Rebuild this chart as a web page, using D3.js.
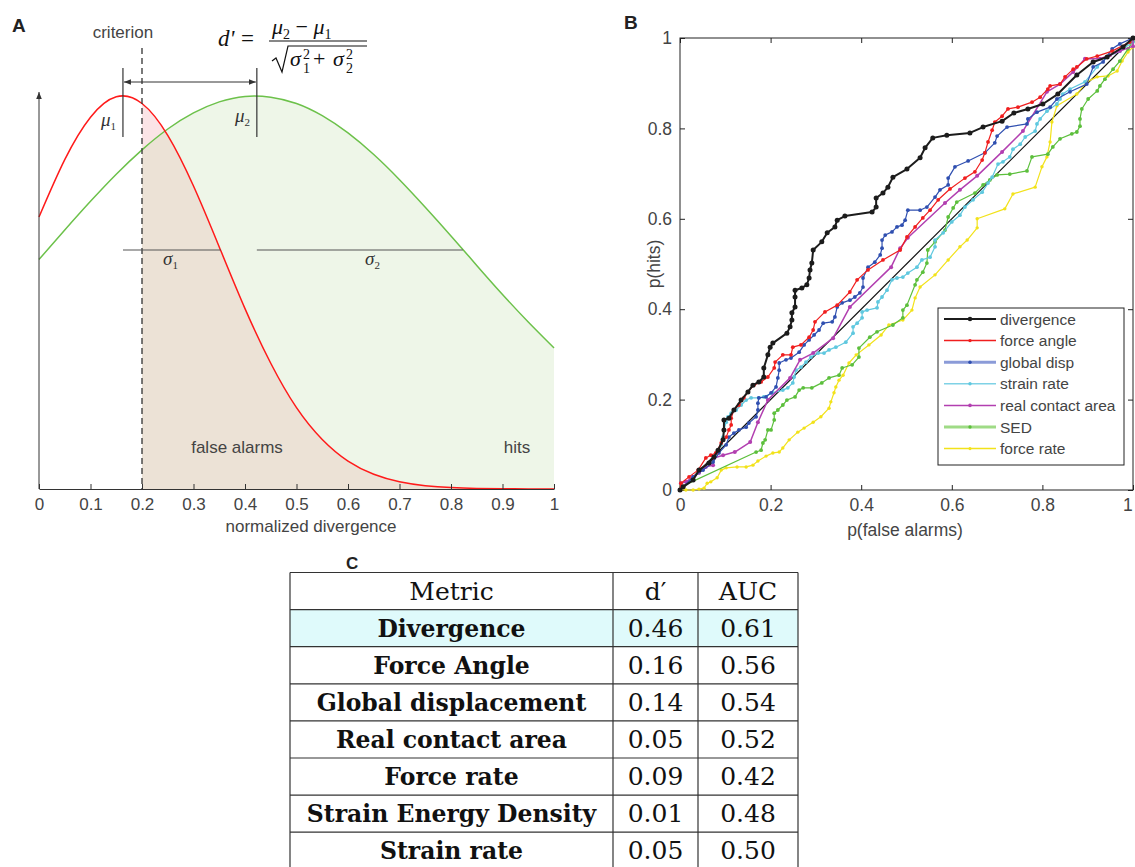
<!DOCTYPE html>
<html><head><meta charset="utf-8">
<script src="https://cdn.jsdelivr.net/npm/d3@7"></script>
<style>body{margin:0;background:#fff} svg{display:block}</style>
</head><body>
<svg id="fig" width="1135" height="867"></svg>
<script>
// ---- Panel A: signal / noise distributions (height relative to peak) ----
const gridA = [0,0.05,0.1,0.15,0.2,0.25,0.3,0.35,0.4,0.45,0.5,0.55,0.6,0.65,0.7,0.75,0.8,0.85,0.9,0.95,1];
const noiseA = [0.692,0.838,0.946,0.998,0.981,0.900,0.771,0.616,0.459,0.320,0.207,0.126,0.071,0.0375,0.0184,0.0085,0.0036,0.0014,0.0005,0.0002,0.0001];
const signalA = [0.584,0.659,0.732,0.801,0.863,0.916,0.957,0.985,0.999,0.997,0.981,0.950,0.906,0.851,0.787,0.717,0.644,0.569,0.495,0.425,0.359];
const mu1 = 0.163, mu2 = 0.423, sigma1 = 0.19, sigma2 = 0.40, criterion = 0.2;
const ticksA = [0,0.1,0.2,0.3,0.4,0.5,0.6,0.7,0.8,0.9,1];

// ---- Panel B: ROC curves [p(false alarms), p(hits)] ----
const divergence = [[0,0],[0.007,0.007],[0.029,0.022],[0.042,0.044],[0.064,0.060],[0.075,0.073],[0.084,0.088],[0.095,0.111],[0.097,0.133],[0.097,0.155],[0.108,0.159],[0.119,0.177],[0.135,0.199],[0.150,0.217],[0.161,0.232],[0.174,0.239],[0.185,0.250],[0.185,0.270],[0.194,0.299],[0.199,0.316],[0.205,0.325],[0.236,0.347],[0.243,0.361],[0.247,0.376],[0.247,0.392],[0.254,0.405],[0.254,0.427],[0.254,0.442],[0.269,0.447],[0.280,0.454],[0.285,0.469],[0.287,0.487],[0.291,0.502],[0.294,0.531],[0.313,0.549],[0.325,0.569],[0.342,0.582],[0.347,0.597],[0.364,0.606],[0.424,0.615],[0.433,0.626],[0.433,0.646],[0.448,0.657],[0.459,0.670],[0.470,0.692],[0.501,0.710],[0.530,0.735],[0.541,0.757],[0.558,0.779],[0.589,0.785],[0.640,0.790],[0.669,0.803],[0.711,0.816],[0.737,0.834],[0.768,0.843],[0.801,0.854],[0.834,0.876],[0.876,0.918],[0.912,0.947],[0.943,0.958],[0.978,0.980],[1,1]];
const forceAngle = [[0,0],[0.002,0.015],[0.020,0.029],[0.040,0.044],[0.057,0.071],[0.068,0.077],[0.079,0.082],[0.091,0.104],[0.102,0.117],[0.108,0.133],[0.113,0.144],[0.113,0.159],[0.119,0.177],[0.130,0.188],[0.141,0.204],[0.150,0.217],[0.163,0.232],[0.179,0.239],[0.194,0.250],[0.208,0.270],[0.210,0.283],[0.227,0.299],[0.245,0.299],[0.249,0.316],[0.267,0.321],[0.285,0.338],[0.294,0.354],[0.298,0.372],[0.320,0.394],[0.347,0.409],[0.375,0.438],[0.391,0.465],[0.415,0.487],[0.448,0.509],[0.486,0.531],[0.501,0.560],[0.519,0.582],[0.536,0.602],[0.552,0.619],[0.570,0.642],[0.596,0.666],[0.629,0.690],[0.651,0.704],[0.667,0.730],[0.673,0.746],[0.680,0.770],[0.689,0.796],[0.695,0.814],[0.711,0.827],[0.724,0.843],[0.746,0.847],[0.777,0.858],[0.795,0.869],[0.812,0.887],[0.817,0.894],[0.839,0.898],[0.850,0.914],[0.868,0.931],[0.876,0.936],[0.898,0.954],[0.921,0.960],[0.954,0.971],[0.993,0.991],[1,1]];
const globalDisp = [[0,0],[0.007,0.007],[0.029,0.029],[0.051,0.044],[0.073,0.062],[0.086,0.082],[0.102,0.100],[0.108,0.117],[0.119,0.126],[0.130,0.133],[0.146,0.139],[0.152,0.148],[0.168,0.162],[0.172,0.177],[0.172,0.192],[0.174,0.204],[0.190,0.206],[0.201,0.215],[0.212,0.228],[0.216,0.248],[0.219,0.265],[0.219,0.281],[0.234,0.288],[0.245,0.292],[0.263,0.305],[0.274,0.321],[0.285,0.332],[0.296,0.343],[0.307,0.354],[0.316,0.369],[0.336,0.372],[0.342,0.383],[0.347,0.405],[0.358,0.414],[0.375,0.420],[0.386,0.427],[0.397,0.436],[0.404,0.449],[0.404,0.469],[0.415,0.493],[0.430,0.504],[0.442,0.520],[0.446,0.535],[0.446,0.553],[0.453,0.564],[0.468,0.571],[0.479,0.582],[0.490,0.586],[0.497,0.597],[0.503,0.619],[0.530,0.619],[0.545,0.626],[0.563,0.648],[0.574,0.664],[0.592,0.675],[0.592,0.690],[0.607,0.715],[0.636,0.728],[0.673,0.746],[0.695,0.768],[0.700,0.783],[0.722,0.803],[0.766,0.810],[0.768,0.821],[0.788,0.836],[0.817,0.847],[0.832,0.865],[0.861,0.881],[0.898,0.898],[0.912,0.936],[0.934,0.947],[0.954,0.976],[0.971,0.987],[1,1]];
const strainRate = [[0,0],[0.007,0.007],[0.024,0.022],[0.042,0.038],[0.064,0.060],[0.079,0.077],[0.091,0.100],[0.095,0.117],[0.097,0.133],[0.102,0.150],[0.106,0.162],[0.113,0.170],[0.124,0.177],[0.135,0.188],[0.146,0.199],[0.157,0.204],[0.174,0.204],[0.185,0.206],[0.205,0.215],[0.227,0.221],[0.238,0.226],[0.249,0.237],[0.252,0.250],[0.256,0.265],[0.267,0.272],[0.278,0.283],[0.289,0.294],[0.305,0.303],[0.318,0.303],[0.329,0.310],[0.344,0.316],[0.366,0.327],[0.382,0.347],[0.382,0.361],[0.391,0.369],[0.402,0.381],[0.402,0.394],[0.413,0.398],[0.435,0.403],[0.437,0.416],[0.446,0.427],[0.457,0.442],[0.468,0.465],[0.479,0.469],[0.492,0.471],[0.503,0.480],[0.523,0.493],[0.534,0.509],[0.552,0.515],[0.563,0.538],[0.563,0.553],[0.581,0.569],[0.600,0.593],[0.618,0.608],[0.629,0.626],[0.647,0.642],[0.667,0.659],[0.680,0.679],[0.689,0.692],[0.702,0.721],[0.713,0.726],[0.728,0.737],[0.735,0.754],[0.751,0.765],[0.762,0.781],[0.784,0.794],[0.788,0.810],[0.795,0.821],[0.810,0.838],[0.832,0.854],[0.839,0.865],[0.845,0.876],[0.861,0.887],[0.894,0.903],[0.921,0.936],[0.943,0.958],[0.971,0.971],[1,0.991],[1,1]];
const contactArea = [[0,0],[0.002,0.015],[0.013,0.018],[0.029,0.029],[0.042,0.038],[0.057,0.051],[0.073,0.055],[0.075,0.071],[0.095,0.077],[0.121,0.084],[0.155,0.106],[0.172,0.150],[0.194,0.199],[0.243,0.248],[0.265,0.288],[0.294,0.303],[0.338,0.336],[0.375,0.405],[0.466,0.493],[0.486,0.535],[0.503,0.558],[0.585,0.635],[0.618,0.664],[0.656,0.695],[0.711,0.748],[0.757,0.794],[0.810,0.881],[0.839,0.898],[0.868,0.925],[0.894,0.954],[0.927,0.954],[0.949,0.962],[0.971,0.971],[1,0.982],[1,1]];
const sed = [[0,0],[0.002,0.007],[0.168,0.084],[0.179,0.088],[0.183,0.104],[0.188,0.111],[0.194,0.133],[0.201,0.133],[0.208,0.155],[0.208,0.170],[0.216,0.177],[0.227,0.188],[0.236,0.199],[0.254,0.206],[0.263,0.221],[0.272,0.226],[0.291,0.226],[0.313,0.237],[0.329,0.248],[0.351,0.254],[0.358,0.270],[0.380,0.277],[0.395,0.294],[0.395,0.314],[0.419,0.338],[0.435,0.350],[0.470,0.365],[0.492,0.381],[0.492,0.398],[0.501,0.409],[0.519,0.454],[0.523,0.465],[0.536,0.482],[0.545,0.502],[0.547,0.531],[0.563,0.549],[0.585,0.575],[0.592,0.604],[0.603,0.624],[0.611,0.637],[0.651,0.657],[0.669,0.675],[0.684,0.686],[0.700,0.697],[0.728,0.699],[0.766,0.706],[0.777,0.737],[0.812,0.743],[0.823,0.759],[0.839,0.777],[0.865,0.788],[0.876,0.792],[0.883,0.805],[0.883,0.821],[0.887,0.843],[0.901,0.865],[0.921,0.883],[0.927,0.894],[0.938,0.909],[0.956,0.931],[0.971,0.949],[0.989,0.976],[1,0.993],[1,1]];
const forceRate = [[0,0],[0.013,0],[0.029,0],[0.042,0.002],[0.053,0.004],[0.060,0.015],[0.068,0.018],[0.082,0.027],[0.091,0.044],[0.102,0.049],[0.126,0.051],[0.146,0.051],[0.161,0.055],[0.172,0.064],[0.190,0.075],[0.205,0.082],[0.219,0.084],[0.227,0.093],[0.241,0.111],[0.260,0.128],[0.274,0.137],[0.294,0.150],[0.311,0.162],[0.329,0.181],[0.333,0.195],[0.340,0.215],[0.344,0.228],[0.351,0.243],[0.360,0.254],[0.373,0.281],[0.389,0.299],[0.417,0.321],[0.444,0.343],[0.461,0.365],[0.492,0.376],[0.512,0.398],[0.519,0.425],[0.530,0.449],[0.563,0.476],[0.592,0.509],[0.618,0.538],[0.634,0.553],[0.656,0.580],[0.656,0.600],[0.717,0.622],[0.735,0.655],[0.784,0.670],[0.799,0.715],[0.810,0.737],[0.817,0.770],[0.821,0.814],[0.832,0.850],[0.876,0.876],[0.898,0.903],[0.921,0.914],[0.945,0.916],[0.965,0.927],[0.976,0.949],[0.989,0.969],[1,0.980],[1,1]];
const chanceLine = [[0,0],[1,1]];
const ticksB = [0,0.2,0.4,0.6,0.8,1];

// draw order (bottom to top) and legend order
const rocSeries = [
  {name:'force rate',        data:forceRate,   color:'#f2e21a', w:1.2, r:1.7, legW:1.5, legColor:'#f2e21a'},
  {name:'SED',               data:sed,         color:'#5cbf3c', w:1.2, r:1.9, legW:3,   legColor:'#9fdb86'},
  {name:'strain rate',       data:strainRate,  color:'#5fc8df', w:1.2, r:1.9, legW:1.5, legColor:'#7fd2e6'},
  {name:'real contact area', data:contactArea, color:'#b23fb0', w:1.5, r:2.0, legW:1.5, legColor:'#b23fb0'},
  {name:'global disp',       data:globalDisp,  color:'#2f4fb0', w:1.2, r:1.9, legW:3,   legColor:'#8b9bd8'},
  {name:'force angle',       data:forceAngle,  color:'#f01e1e', w:1.2, r:1.9, legW:1.5, legColor:'#f01e1e'},
  {name:'divergence',        data:divergence,  color:'#1c1c1c', w:2.0, r:2.5, legW:2,   legColor:'#1c1c1c'}
];
const legendOrder = ['divergence','force angle','global disp','strain rate','real contact area','SED','force rate'];

// ---- Panel C table ----
const metrics = ['Divergence','Force Angle','Global displacement','Real contact area','Force rate','Strain Energy Density','Strain rate'];
const dPrime = ['0.46','0.16','0.14','0.05','0.09','0.01','0.05'];
const aucVals = ['0.61','0.56','0.54','0.52','0.42','0.48','0.50'];

const svg = d3.select('#fig');
const sans = '"Liberation Sans", Arial, sans-serif';
const serif = '"Liberation Serif", "DejaVu Serif", serif';
const tabFont = '"DejaVu Serif", serif';
const txt = '#444';

const defs = svg.append('defs');
defs.append('marker').attr('id','arr').attr('viewBox','0 0 10 10')
  .attr('refX',10).attr('refY',5).attr('markerWidth',7).attr('markerHeight',7)
  .attr('orient','auto-start-reverse')
  .append('path').attr('d','M0,1 L10,5 L0,9 z').attr('fill','#333');

/* ================= Panel A ================= */
const xA = d3.scaleLinear().domain([0,1]).range([39,554]);
const yA = d3.scaleLinear().domain([0,1]).range([489,96]);
const gA = svg.append('g');

const ptsRed = gridA.map((x,i) => [x, noiseA[i]]);
const ptsGreen = gridA.map((x,i) => [x, signalA[i]]);
const right = p => p.filter(d => d[0] >= criterion);

const area = d3.area().x(d => xA(d[0])).y0(yA(0)).y1(d => yA(d[1])).curve(d3.curveNatural);
const line = d3.line().x(d => xA(d[0])).y(d => yA(d[1])).curve(d3.curveNatural);

defs.append('clipPath').attr('id','clipGreen')
  .append('path').attr('d', area(right(ptsGreen)));

gA.append('path').attr('d', area(right(ptsGreen))).attr('fill','#eef6e8');
gA.append('path').attr('d', area(right(ptsRed))).attr('fill','#fbe4e6');
gA.append('path').attr('d', area(right(ptsRed))).attr('fill','#ece2d6').attr('clip-path','url(#clipGreen)');

gA.append('path').attr('d', line(ptsGreen)).attr('fill','none').attr('stroke','#6cc14a').attr('stroke-width',1.5);
gA.append('path').attr('d', line(ptsRed)).attr('fill','none').attr('stroke','#ff1a1a').attr('stroke-width',1.5);

// x axis
const axA = gA.append('g').attr('transform',`translate(0,${yA(0)})`)
  .call(d3.axisBottom(xA).tickValues(ticksA).tickSizeInner(-5).tickSizeOuter(0).tickPadding(9)
    .tickFormat(d => d3.format('~g')(d)));
axA.select('.domain').attr('stroke','#333');
axA.selectAll('.tick line').attr('stroke','#333');
axA.selectAll('text').attr('font-family',sans).attr('font-size','17px').attr('fill',txt);

// y axis arrow
gA.append('line').attr('x1',xA(0)).attr('x2',xA(0)).attr('y1',yA(0)).attr('y2',92)
  .attr('stroke','#333').attr('stroke-width',1).attr('marker-end','url(#arr)');

// criterion
gA.append('line').attr('x1',xA(criterion)).attr('x2',xA(criterion)).attr('y1',48).attr('y2',yA(0))
  .attr('stroke','#333').attr('stroke-width',1.3).attr('stroke-dasharray','6,4');
gA.append('text').attr('x',xA(mu1)).attr('y',38).attr('text-anchor','middle')
  .attr('font-family',sans).attr('font-size','17px').attr('fill',txt).text('criterion');

// mean markers + d' arrow
[mu1, mu2].forEach(m => {
  gA.append('line').attr('x1',xA(m)).attr('x2',xA(m)).attr('y1',68).attr('y2',137)
    .attr('stroke','#333').attr('stroke-width',1.2);
});
gA.append('line').attr('x1',xA(mu1)+1).attr('x2',xA(mu2)-1).attr('y1',82).attr('y2',82)
  .attr('stroke','#333').attr('stroke-width',1).attr('marker-start','url(#arr)').attr('marker-end','url(#arr)');

// sigma lines
[[mu1,sigma1],[mu2,sigma2]].forEach(([m,s]) => {
  gA.append('line').attr('x1',xA(m)).attr('x2',xA(m+s)).attr('y1',250).attr('y2',250)
    .attr('stroke','#555').attr('stroke-width',1.2);
});

function greek(g, x, y, sym, sub) {
  const t = g.append('text').attr('x',x).attr('y',y).attr('font-family',serif)
    .attr('font-style','italic').attr('font-size','19px').attr('fill','#333');
  t.append('tspan').text(sym);
  t.append('tspan').attr('font-size','11px').attr('font-style','normal').attr('dy',4).text(sub);
}
greek(gA, 101, 126, 'μ', '1');
greek(gA, 235, 122, 'μ', '2');
greek(gA, 163, 265, 'σ', '1');
greek(gA, 365, 265, 'σ', '2');

// formula
const fs = gA.append('g').attr('font-family',serif).attr('fill','#111');
fs.append('text').attr('x',218).attr('y',46).attr('font-size','23px').attr('font-style','italic').text("d'");
fs.append('text').attr('x',241).attr('y',46).attr('font-size','23px').text('=');
const num = fs.append('text').attr('x',272).attr('y',34).attr('font-size','22px');
num.append('tspan').attr('font-style','italic').text('μ');
num.append('tspan').attr('font-size','14px').attr('dy',5).text('2');
num.append('tspan').attr('dy',-5).text(' − ');
num.append('tspan').attr('font-style','italic').text('μ');
num.append('tspan').attr('font-size','14px').attr('dy',5).text('1');
fs.append('line').attr('x1',269).attr('x2',367).attr('y1',41).attr('y2',41).attr('stroke','#111').attr('stroke-width',1.1);
fs.append('path').attr('d','M272,61 L276,58 L282,72 L288,46 L367,46').attr('fill','none').attr('stroke','#111').attr('stroke-width',1.2);
function sq(x, sub) {
  fs.append('text').attr('x',x).attr('y',66).attr('font-size','22px').attr('font-style','italic').text('σ');
  fs.append('text').attr('x',x+13).attr('y',59).attr('font-size','14px').text('2');
  fs.append('text').attr('x',x+13).attr('y',73).attr('font-size','14px').text(sub);
}
sq(290, '1');
fs.append('text').attr('x',313).attr('y',66).attr('font-size','22px').text('+');
sq(333, '2');

gA.append('text').attr('x',237).attr('y',453).attr('text-anchor','middle').attr('font-family',sans)
  .attr('font-size','17px').attr('fill',txt).text('false alarms');
gA.append('text').attr('x',517).attr('y',453).attr('text-anchor','middle').attr('font-family',sans)
  .attr('font-size','17px').attr('fill',txt).text('hits');
gA.append('text').attr('x',311).attr('y',532).attr('text-anchor','middle').attr('font-family',sans)
  .attr('font-size','17px').attr('fill',txt).text('normalized divergence');
svg.append('text').attr('x',12).attr('y',32).attr('font-family',sans).attr('font-weight','700')
  .attr('font-size','19px').attr('fill','#222').text('A');

/* ================= Panel B ================= */
const xB = d3.scaleLinear().domain([0,1]).range([680,1133]);
const yB = d3.scaleLinear().domain([0,1]).range([490,38]);
const gB = svg.append('g');

const styleAxis = (ax, labels) => {
  ax.select('.domain').remove();
  ax.selectAll('.tick line').attr('stroke','#222');
  if (labels) ax.selectAll('text').attr('font-family',sans).attr('font-size','17.5px').attr('fill',txt);
  else ax.selectAll('text').remove();
};
gB.append('g').attr('transform',`translate(0,${yB(0)})`)
  .call(d3.axisBottom(xB).tickValues(ticksB).tickSizeInner(-5).tickSizeOuter(0).tickPadding(9).tickFormat(d3.format('~g')))
  .call(ax => styleAxis(ax, true))
  .call(ax => ax.selectAll('.tick').filter(d => d === 1).select('text').attr('text-anchor','end').attr('dx','-0.05em'));
gB.append('g').attr('transform',`translate(0,${yB(1)})`)
  .call(d3.axisTop(xB).tickValues(ticksB).tickSizeInner(-5).tickSizeOuter(0))
  .call(ax => styleAxis(ax, false));
gB.append('g').attr('transform',`translate(${xB(0)},0)`)
  .call(d3.axisLeft(yB).tickValues(ticksB).tickSizeInner(-5).tickSizeOuter(0).tickPadding(8).tickFormat(d3.format('~g')))
  .call(ax => styleAxis(ax, true));
gB.append('g').attr('transform',`translate(${xB(1)},0)`)
  .call(d3.axisRight(yB).tickValues(ticksB).tickSizeInner(-5).tickSizeOuter(0))
  .call(ax => styleAxis(ax, false));
gB.append('rect').attr('x',xB(0)).attr('y',yB(1)).attr('width',xB(1)-xB(0)).attr('height',yB(0)-yB(1))
  .attr('fill','none').attr('stroke','#222').attr('stroke-width',1);

const lineB = d3.line().x(d => xB(d[0])).y(d => yB(d[1]));
gB.append('path').attr('d', lineB(chanceLine)).attr('stroke','#111').attr('stroke-width',1.2).attr('fill','none');

rocSeries.forEach(s => {
  const g = gB.append('g');
  g.append('path').attr('d', lineB(s.data)).attr('fill','none').attr('stroke',s.color)
    .attr('stroke-width',s.w).attr('stroke-linejoin','round');
  g.selectAll('circle').data(s.data).join('circle')
    .attr('cx', d => xB(d[0])).attr('cy', d => yB(d[1])).attr('r', s.r).attr('fill', s.color);
});

gB.append('text').attr('transform',`translate(660,264) rotate(-90)`).attr('text-anchor','middle')
  .attr('font-family',sans).attr('font-size','17.5px').attr('fill',txt).text('p(hits)');
gB.append('text').attr('x',905).attr('y',536).attr('text-anchor','middle')
  .attr('font-family',sans).attr('font-size','17.5px').attr('fill',txt).text('p(false alarms)');
svg.append('text').attr('x',624).attr('y',29).attr('font-family',sans).attr('font-weight','700')
  .attr('font-size','19px').attr('fill','#222').text('B');

// legend
const leg = gB.append('g').attr('transform','translate(938,308)');
leg.append('rect').attr('width',186).attr('height',157).attr('fill','#fff').attr('stroke','#222').attr('stroke-width',1);
legendOrder.forEach((n, i) => {
  const s = rocSeries.find(d => d.name === n);
  const y = 11 + i * 21.6;
  leg.append('line').attr('x1',6).attr('x2',58).attr('y1',y).attr('y2',y)
    .attr('stroke',s.legColor).attr('stroke-width',s.legW);
  leg.append('circle').attr('cx',32).attr('cy',y).attr('r',s.r * 0.9).attr('fill',s.color);
  leg.append('text').attr('x',62).attr('y',y+5.5).attr('font-family',sans).attr('font-size','15.5px')
    .attr('fill',txt).text(n);
});

/* ================= Panel C ================= */
const gC = svg.append('g');
const colX = [290, 613, 698, 798];
const rowH = 37.1, top0 = 572.5;
const rowY = i => top0 + i * rowH;

gC.append('rect').attr('x',colX[0]).attr('y',rowY(1)).attr('width',colX[3]-colX[0]).attr('height',rowH)
  .attr('fill','#dffafb');
const header = ['Metric', 'd\u2032', 'AUC'];
header.forEach((h, c) => {
  gC.append('text').attr('x',(colX[c]+colX[c+1])/2).attr('y',rowY(0)+27).attr('text-anchor','middle')
    .attr('font-family',tabFont).attr('font-size','25px').attr('fill','#111').text(h);
});
metrics.forEach((m, i) => {
  const y = rowY(i+1) + 27;
  gC.append('text').attr('x',(colX[0]+colX[1])/2).attr('y',y).attr('text-anchor','middle')
    .attr('font-family',tabFont).attr('font-weight','700').attr('font-size','23.5px').attr('fill','#111').text(m);
  gC.append('text').attr('x',(colX[1]+colX[2])/2).attr('y',y).attr('text-anchor','middle')
    .attr('font-family',tabFont).attr('font-size','25px').attr('fill','#111').text(dPrime[i]);
  gC.append('text').attr('x',(colX[2]+colX[3])/2).attr('y',y).attr('text-anchor','middle')
    .attr('font-family',tabFont).attr('font-size','25px').attr('fill','#111').text(aucVals[i]);
});
d3.range(metrics.length + 2).forEach(i => {
  gC.append('line').attr('x1',colX[0]).attr('x2',colX[3]).attr('y1',rowY(i)).attr('y2',rowY(i))
    .attr('stroke','#333').attr('stroke-width',1.2);
});
colX.forEach(x => {
  gC.append('line').attr('x1',x).attr('x2',x).attr('y1',rowY(0)).attr('y2',rowY(metrics.length+1))
    .attr('stroke','#333').attr('stroke-width',1.2);
});
svg.append('text').attr('x',346).attr('y',569).attr('font-family',sans).attr('font-weight','700')
  .attr('font-size','17px').attr('fill','#222').text('C');
</script></body></html>
